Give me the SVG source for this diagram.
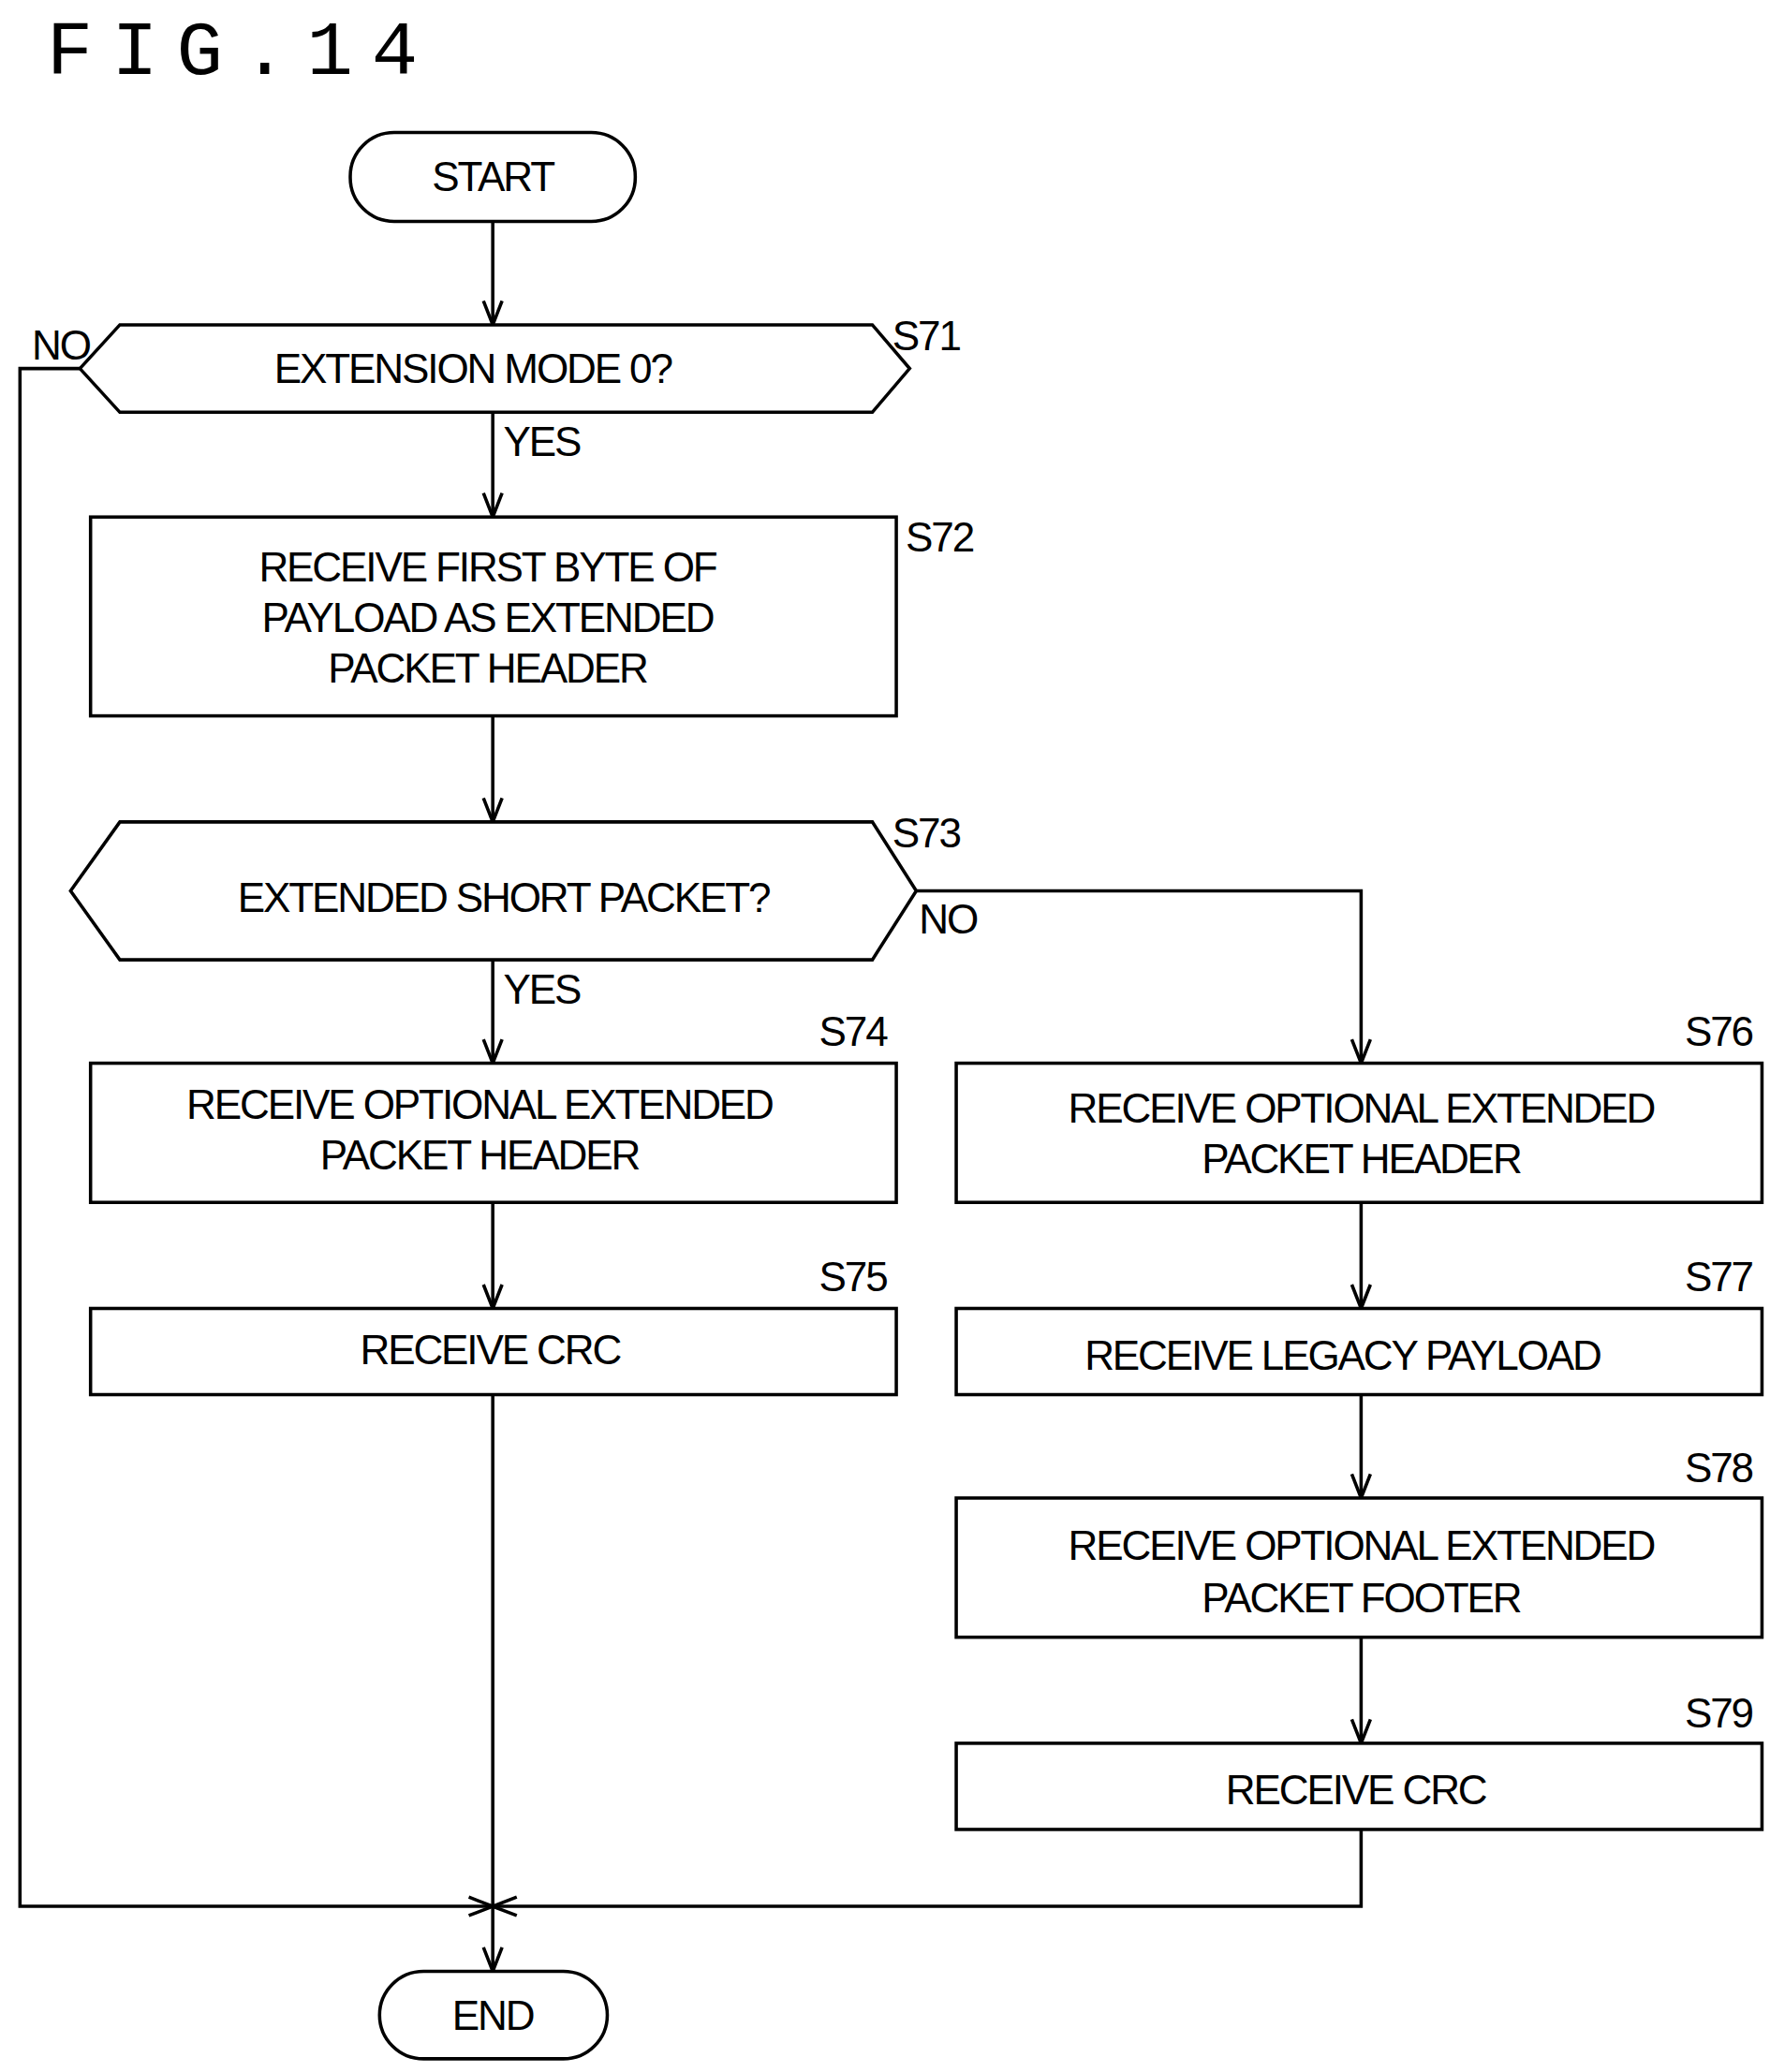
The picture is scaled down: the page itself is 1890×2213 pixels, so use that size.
<svg xmlns="http://www.w3.org/2000/svg" width="1890" height="2213" viewBox="0 0 1890 2213">
<style>
.b{fill:none;stroke:#000;stroke-width:2.5}
.t{font-family:"Liberation Sans",Arial,sans-serif;font-size:31px;text-anchor:middle;dominant-baseline:central;letter-spacing:-1.5px}
.l{font-family:"Liberation Sans",Arial,sans-serif;font-size:31px;dominant-baseline:central;letter-spacing:-1.5px}
.c{fill:none;stroke:#000;stroke-width:2.5}
</style>
<defs>
<marker id="a" viewBox="0 0 20 20" refX="20" refY="10" markerWidth="20" markerHeight="20" markerUnits="userSpaceOnUse" orient="auto"><polyline points="2,3 20,10 2,17" fill="none" stroke="#000" stroke-width="2.5"/></marker>
</defs>
<rect width="1890" height="2213" fill="#fff"/>
<g transform="scale(1.4221,1.4159)">
<text x="35" y="40" font-family="Liberation Mono,monospace" font-size="58" letter-spacing="14" dominant-baseline="central">FIG.14</text>
<g id="start"><rect class="b" x="263" y="100" width="214" height="67" rx="33"/><text class="t" x="370" y="133">START</text></g>
<g id="s71"><polygon class="b" points="60,278 90,245 655,245 683,278 655,311 90,311"/><text class="t" x="355" y="278">EXTENSION MODE 0?</text><text class="l" x="670" y="253">S71</text></g>
<g id="s72"><rect class="b" x="68" y="390" width="605" height="150"/><text class="t" x="366" y="428">RECEIVE FIRST BYTE OF</text><text class="t" x="366" y="466">PAYLOAD AS EXTENDED</text><text class="t" x="366" y="504">PACKET HEADER</text><text class="l" x="680" y="405">S72</text></g>
<g id="s73"><polygon class="b" points="53,672 90,620 655,620 688,672 655,724 90,724"/><text class="t" x="378" y="677">EXTENDED SHORT PACKET?</text><text class="l" x="670" y="628">S73</text></g>
<g id="s74"><rect class="b" x="68" y="802" width="605" height="105"/><text class="t" x="360" y="833">RECEIVE OPTIONAL EXTENDED</text><text class="t" x="360" y="871">PACKET HEADER</text><text class="l" x="615" y="778">S74</text></g>
<g id="s75"><rect class="b" x="68" y="987" width="605" height="65"/><text class="t" x="368" y="1018">RECEIVE CRC</text><text class="l" x="615" y="963">S75</text></g>
<g id="s76"><rect class="b" x="718" y="802" width="605" height="105"/><text class="t" x="1022" y="836">RECEIVE OPTIONAL EXTENDED</text><text class="t" x="1022" y="874">PACKET HEADER</text><text class="l" x="1265" y="778">S76</text></g>
<g id="s77"><rect class="b" x="718" y="987" width="605" height="65"/><text class="t" x="1008" y="1022">RECEIVE LEGACY PAYLOAD</text><text class="l" x="1265" y="963">S77</text></g>
<g id="s78"><rect class="b" x="718" y="1130" width="605" height="105"/><text class="t" x="1022" y="1166">RECEIVE OPTIONAL EXTENDED</text><text class="t" x="1022" y="1205">PACKET FOOTER</text><text class="l" x="1265" y="1107">S78</text></g>
<g id="s79"><rect class="b" x="718" y="1315" width="605" height="65"/><text class="t" x="1018" y="1350">RECEIVE CRC</text><text class="l" x="1265" y="1292">S79</text></g>
<g id="end"><rect class="b" x="285" y="1487" width="171" height="66" rx="33"/><text class="t" x="370" y="1520">END</text></g>
<g id="connectors">
<line class="c" x1="370" y1="167" x2="370" y2="245" marker-end="url(#a)"/>
<line class="c" x1="370" y1="311" x2="370" y2="390" marker-end="url(#a)"/>
<line class="c" x1="370" y1="540" x2="370" y2="620" marker-end="url(#a)"/>
<line class="c" x1="370" y1="724" x2="370" y2="802" marker-end="url(#a)"/>
<line class="c" x1="370" y1="907" x2="370" y2="987" marker-end="url(#a)"/>
<polyline class="c" points="688,672 1022,672 1022,802" marker-end="url(#a)"/>
<line class="c" x1="1022" y1="907" x2="1022" y2="987" marker-end="url(#a)"/>
<line class="c" x1="1022" y1="1052" x2="1022" y2="1130" marker-end="url(#a)"/>
<line class="c" x1="1022" y1="1235" x2="1022" y2="1315" marker-end="url(#a)"/>
<polyline class="c" points="60,278 15,278 15,1438 370,1438" marker-end="url(#a)"/>
<polyline class="c" points="1022,1380 1022,1438 370,1438" marker-end="url(#a)"/>
<line class="c" x1="370" y1="1052" x2="370" y2="1487" marker-end="url(#a)"/>
<text class="l" x="378" y="333">YES</text>
<text class="l" x="378" y="746">YES</text>
<text class="l" x="24" y="260">NO</text>
<text class="l" x="690" y="693">NO</text>
</g>
</g>
</svg>
